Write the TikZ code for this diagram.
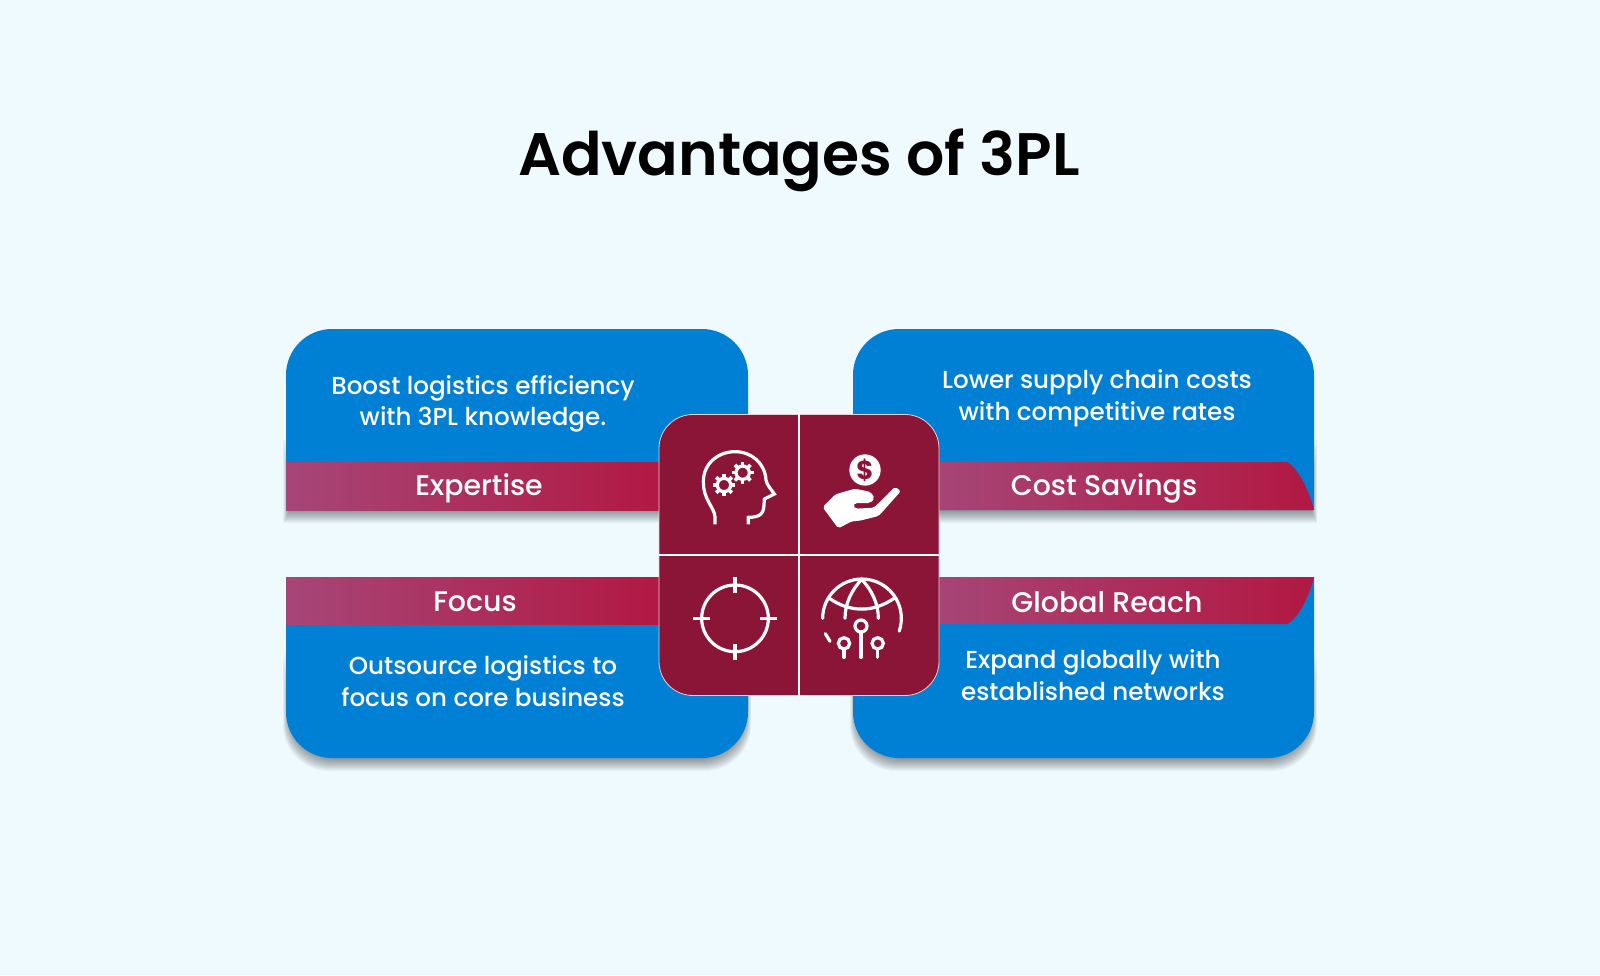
\documentclass[tikz,border=0pt]{standalone}
\usepackage{fontspec}
\setmainfont{Poppins}
\newfontfamily\mediumfont{Poppins Medium}
\newfontfamily\titlefont{Poppins SemiBold}
\definecolor{bgblue}{RGB}{239,250,255}
\definecolor{cardblue}{RGB}{0,128,212}
\definecolor{tilered}{RGB}{138,21,54}
\definecolor{bandleft}{RGB}{166,70,120}
\definecolor{bandright}{RGB}{178,24,66}
\tikzset{every node/.style={font=\normalsize},
  cardtext/.style={text=white,align=center,font=\mediumfont\fontsize{12.3}{15.8}\selectfont,inner sep=0pt},
  bandtext/.style={text=white,font=\mediumfont\fontsize{14.2}{16}\selectfont,inner sep=0pt},
  iconline/.style={draw=white,line width=1.6pt},
  softshadow/.style={black,opacity=0.035},
  bandshade/.style={left color=bandleft,right color=bandright}}

\begin{document}
\begin{tikzpicture}[x=0.5pt,y=-0.5pt]
  \useasboundingbox (0,0) rectangle (1600,975);
  \fill[bgblue] (0,0) rectangle (1600,975);
  \node (title) at (799,160) {\titlefont\fontsize{30}{32}\selectfont Advantages of 3PL};
  % soft shadows
  \foreach\d in {-6,...,6} {
    \fill[softshadow] (286-\d/2,470-5*\d) rectangle (748+\d/2,517+\d);
    \fill[softshadow] (853-\d/2,470-5*\d) rectangle (1314+\d/2,517+\d);
    \fill[softshadow,rounded corners=23pt] (286-\d/2,650-5*\d) rectangle (748+\d/2,765+\d);
    \fill[softshadow,rounded corners=23pt] (853-\d/2,650-5*\d) rectangle (1314+\d/2,765+\d);
  }
  % cards
  \fill[cardblue] (286,510) [rounded corners=23pt] -- (286,329) -- (748,329) [sharp corners] -- (748,510) -- cycle;
  \fill[cardblue] (853,510) [rounded corners=23pt] -- (853,329) -- (1314,329) [sharp corners] -- (1314,510) -- cycle;
  \fill[cardblue] (286,577) [rounded corners=23pt] -- (286,758) -- (748,758) [sharp corners] -- (748,577) -- cycle;
  \fill[cardblue] (853,577) [rounded corners=23pt] -- (853,758) -- (1314,758) [sharp corners] -- (1314,577) -- cycle;
  % bands
  \shade[bandshade] (286,462) rectangle (665,510);
  \shade[bandshade] (286,577) rectangle (665,624);
  \shade[bandshade] (930,462) -- (1287,462) .. controls (1298,468) and (1309,490) .. (1314,510) -- (930,510) -- cycle;
  \shade[bandshade] (930,577) -- (1314,577) .. controls (1309,597) and (1298,619) .. (1287,624) -- (930,624) -- cycle;
  \node[bandtext] (expertise) at (479,488) {Expertise};
  \node[bandtext] (savings) at (1104,488) {Cost Savings};
  \node[bandtext] (focus) at (475,602) {Focus};
  \node[bandtext] (reach) at (1107,602) {Global Reach};
  \node[cardtext] (boost) at (483,404) {Boost logistics efficiency\\with 3PL knowledge.};
  \node[cardtext] (lower) at (1097,398) {Lower supply chain costs\\with competitive rates};
  \node[cardtext] (outsource) at (483,681) {Outsource logistics to\\focus on core business};
  \node[cardtext] (expand) at (1093,675) {Expand globally with\\established networks};
  % centre tile
  \node[fill=tilered,draw=white!80!tilered,line width=0.4pt,rounded corners=17pt,minimum width=140pt,minimum height=140.5pt,inner sep=0pt] (tile) at (799,555) {};
  \draw[white,line width=0.8pt] (tile.north) -- (tile.south);
  \draw[white,line width=0.8pt] (tile.west) -- (tile.east);
  % head
  \begin{scope}[shift={(640,400)},scale=1/3]
    \draw[iconline] (225,373) -- (225,350) .. controls (222,320) and (190,300) .. (190,245)
      .. controls (190,190) and (235,155) .. (285,155) .. controls (335,155) and (375,190) .. (378,240)
      .. controls (380,255) and (395,270) .. (403,282) -- (373,297) .. controls (372,315) and (372,325) .. (368,335)
      .. controls (362,350) and (340,352) .. (325,352) -- (325,373);
    \foreach\cx/\cy in {252/255, 308/218} {
      \begin{scope}[shift={(\cx,\cy)}]
        \draw[iconline] (0,0) circle (20);
        \foreach\a in {0,45,...,315}
          \draw[white,line width=1.8pt] (\a:18) -- (\a:33);
      \end{scope}
    }
  \end{scope}
  % hand and coin
  \begin{scope}[shift={(780,400)},scale=1/3]
    \fill[white] (255,210) circle (47);
    \node[text=tilered,inner sep=0pt] (dollar) at (255,210) {\fontsize{13}{13}\selectfont\bfseries\$};
    \fill[white,rounded corners=1pt] (128,322) -- (166,283) -- (225,266) -- (272,276) -- (284,295) -- (270,309)
      -- (225,309) -- (219,318) -- (228,326) -- (282,323) -- (346,260) -- (362,274) -- (296,348) -- (240,362)
      -- (215,364) -- (175,385) -- cycle;
  \end{scope}
  % target
  \begin{scope}[shift={(640,540)},scale=1/3]
    \draw[iconline] (285,235) circle (100);
    \draw[iconline] (285,110) -- (285,158);
    \draw[iconline] (285,312) -- (285,360);
    \draw[iconline] (160,235) -- (210,235);
    \draw[iconline] (360,235) -- (410,235);
  \end{scope}
  % globe
  \begin{scope}[shift={(780,540)},scale=1/3,line cap=round]
    \draw[iconline] (128,235) arc[start angle=180,end angle=379,radius=118];
    \draw[iconline] (136,281) -- (150,304);
    \draw[iconline] (148,175) .. controls (210,218) and (280,218) .. (342,175);
    \draw[iconline] (245,118) .. controls (215,150) and (195,190) .. (195,235);
    \draw[iconline] (245,118) .. controls (275,150) and (295,190) .. (295,235);
    \draw[iconline] (243,258) circle (18);
    \draw[iconline] (243,276) -- (243,352);
    \draw[iconline] (192,310) circle (17);
    \draw[iconline] (192,327) -- (192,352);
    \draw[iconline] (293,310) circle (17);
    \draw[iconline] (293,327) -- (293,352);
  \end{scope}
\end{tikzpicture}
\end{document}
